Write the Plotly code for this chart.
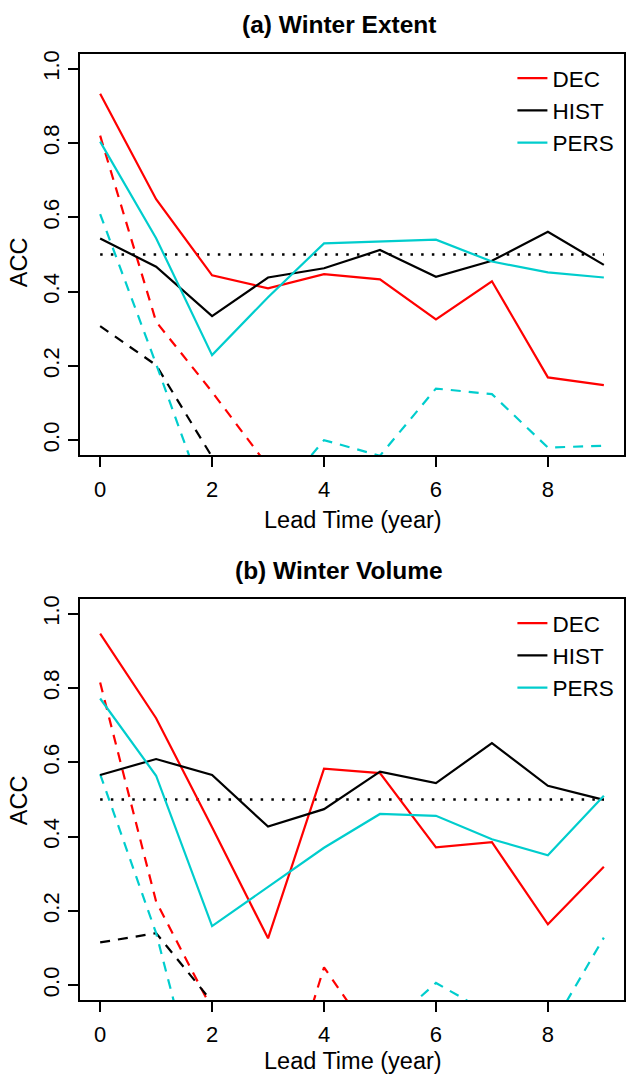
import plotly.graph_objects as go

# ---------------- data ----------------
lead = [0, 1, 2, 3, 4, 5, 6, 7, 8, 9]
ref_x = [0, 9]
ref_level = [0.5, 0.5]

# (a) Winter Extent  (solid = full, dashed = second set)
dec_ext = [0.933, 0.649, 0.444, 0.409, 0.447, 0.433, 0.325, 0.428, 0.169, 0.148]
hist_ext = [0.543, 0.467, 0.334, 0.438, 0.463, 0.512, 0.440, 0.483, 0.561, 0.472]
pers_ext = [0.804, 0.544, 0.229, 0.385, 0.530, 0.534, 0.540, 0.481, 0.452, 0.438]
dec_ext_d = [0.820, 0.319, 0.130, -0.07, -0.25, -0.30, -0.20, -0.25, -0.35, -0.30]
hist_ext_d = [0.307, 0.202, -0.045, -0.20, -0.25, -0.30, -0.20, -0.30, -0.25, -0.30]
pers_ext_d = [0.609, 0.205, -0.213, -0.18, 0.0, -0.042, 0.139, 0.124, -0.020, -0.015]

# (b) Winter Volume
dec_vol = [0.947, 0.719, 0.425, 0.126, 0.583, 0.571, 0.371, 0.385, 0.164, 0.319]
hist_vol = [0.566, 0.609, 0.566, 0.427, 0.474, 0.575, 0.544, 0.652, 0.537, 0.499]
pers_vol = [0.772, 0.564, 0.159, 0.265, 0.370, 0.461, 0.456, 0.393, 0.350, 0.510]
dec_vol_d = [0.815, 0.225, -0.065, -0.44, 0.048, -0.17, -0.30, -0.30, -0.35, -0.30]
hist_vol_d = [0.115, 0.140, -0.045, -0.40, -0.35, -0.30, -0.35, -0.30, -0.30, -0.35]
pers_vol_d = [0.568, 0.140, -0.44, -0.50, -0.30, -0.13, 0.006, -0.08, -0.13, 0.128]

series_names = ["DEC", "HIST", "PERS"]
colors = ["#FF0000", "#000000", "#00CDCD"]

x_ticks = [0, 2, 4, 6, 8]
y_ticks = [0.0, 0.2, 0.4, 0.6, 0.8, 1.0]
y_ticklabels = ["0.0", "0.2", "0.4", "0.6", "0.8", "1.0"]

# ---------------- figure ----------------
W, H = 627, 1074
ML, MR, MT, MB = 80, 1, 54, 74
PW, PH = W - ML - MR, H - MT - MB
FONT = "Liberation Sans, Arial, Helvetica, sans-serif"


def py(pix):  # paper y from pixel
    return (H - MB - pix) / PH


def px(pix):  # paper x from pixel
    return (pix - ML) / PW


fig = go.Figure()

panels = [
    ("x", "y", "legend", [dec_ext, hist_ext, pers_ext], [dec_ext_d, hist_ext_d, pers_ext_d]),
    ("x2", "y2", "legend2", [dec_vol, hist_vol, pers_vol], [dec_vol_d, hist_vol_d, pers_vol_d]),
]

for xa, ya, lg, solids, dashes in panels:
    fig.add_trace(go.Scatter(x=ref_x, y=ref_level, mode="lines", xaxis=xa, yaxis=ya,
                             line=dict(color="black", width=2.5, dash="2.5px,8.2px"),
                             showlegend=False, hoverinfo="skip"))
    for name, col, vals in zip(series_names, colors, dashes):
        fig.add_trace(go.Scatter(x=lead, y=vals, mode="lines", xaxis=xa, yaxis=ya,
                                 line=dict(color=col, width=2.2, dash="10px,8px"),
                                 showlegend=False))
    for name, col, vals in zip(series_names, colors, solids):
        fig.add_trace(go.Scatter(x=lead, y=vals, mode="lines", name=name, xaxis=xa, yaxis=ya,
                                 line=dict(color=col, width=2.2), legend=lg))

axis_common = dict(showline=True, mirror=True, linecolor="black", linewidth=2,
                   ticks="outside", ticklen=10, tickwidth=2, tickcolor="black",
                   showgrid=False, zeroline=False,
                   tickfont=dict(family=FONT, size=22, color="black"))

xr = [-0.36, 9.36]
yr = [-0.04, 1.04]
dom_a = [py(455), 1.0]
dom_b = [0.0, py(599)]

fig.update_layout(
    width=W, height=H,
    margin=dict(l=ML, r=MR, t=MT, b=MB),
    paper_bgcolor="white", plot_bgcolor="white",
    font=dict(family=FONT, size=22, color="black"),
    xaxis=dict(domain=[0, 1], range=xr, anchor="y", tickvals=x_ticks,
               ticklabelstandoff=4, **axis_common),
    yaxis=dict(domain=dom_a, range=yr, anchor="x", tickvals=y_ticks, ticktext=y_ticklabels,
               tickangle=-90, **axis_common),
    xaxis2=dict(domain=[0, 1], range=xr, anchor="y2", tickvals=x_ticks,
                ticklabelstandoff=4, **axis_common),
    yaxis2=dict(domain=dom_b, range=yr, anchor="x2", tickvals=y_ticks, ticktext=y_ticklabels,
                tickangle=-90, **axis_common),
    legend=dict(x=px(514), y=py(57), xanchor="left", yanchor="top",
                bgcolor="rgba(0,0,0,0)", font=dict(family=FONT, size=22.5),
                itemwidth=30, tracegroupgap=0),
    legend2=dict(x=px(514), y=py(602), xanchor="left", yanchor="top",
                 bgcolor="rgba(0,0,0,0)", font=dict(family=FONT, size=22.5),
                 itemwidth=30, tracegroupgap=0),
    showlegend=True,
)

annotations = [
    dict(text="<b>(a) Winter Extent</b>", x=px(340), y=py(25), font=dict(size=24.5)),
    dict(text="<b>(b) Winter Volume</b>", x=px(340), y=py(570), font=dict(size=24.5)),
    dict(text="Lead Time (year)", x=px(354), y=py(520), font=dict(size=23.5)),
    dict(text="Lead Time (year)", x=px(354), y=py(1061), font=dict(size=23.5)),
    dict(text="ACC", x=px(19), y=py(262), textangle=-90, font=dict(size=23.5)),
    dict(text="ACC", x=px(19), y=py(800), textangle=-90, font=dict(size=23.5)),
]
for a in annotations:
    fig.add_annotation(xref="paper", yref="paper", showarrow=False,
                       xanchor="center", yanchor="middle", **a)

fig.write_html("out.html", config={"displayModeBar": False},
               post_script="document.body.style.margin='0';")
